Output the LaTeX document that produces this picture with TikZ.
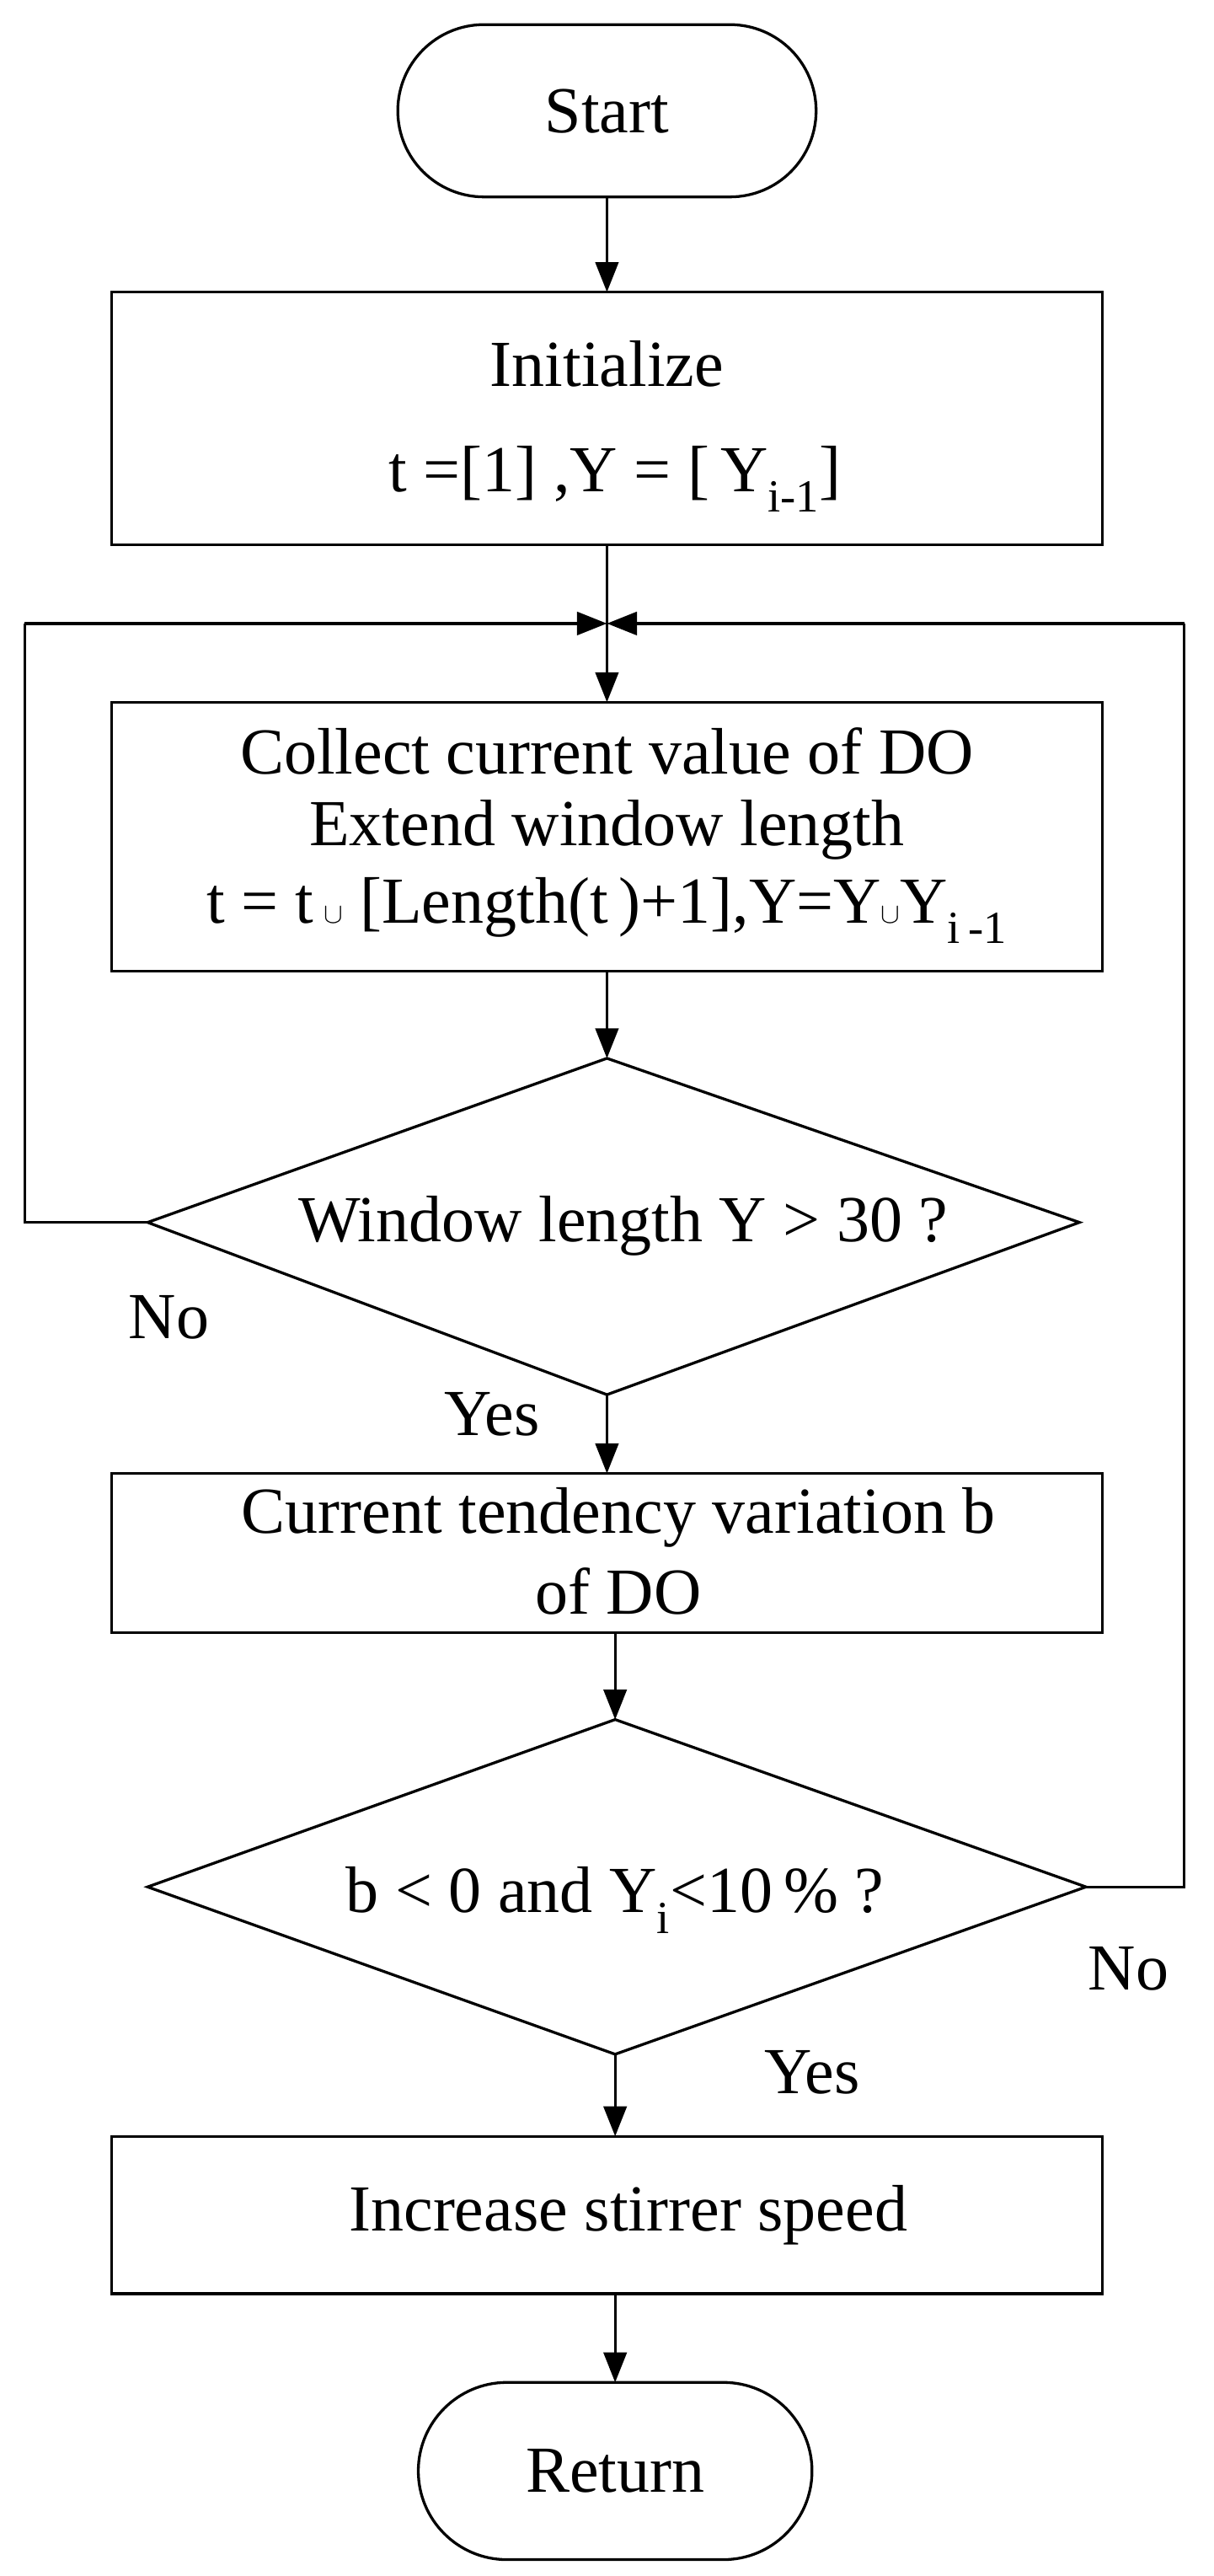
\documentclass[tikz,border=0pt]{standalone}
\usepackage{fontspec}
\setmainfont{Liberation Serif}
\usetikzlibrary{arrows.meta}
\newcommand{\mycup}{{\fontsize{72}{72}\selectfont$\cup$}}
\begin{document}
\begin{tikzpicture}[x=0.05cm,y=-0.05cm,line width=2.4pt,
  arr/.style={-{Triangle[length=26pt,width=20pt]}},
  txt/.style={font=\fontsize{57}{66}\selectfont,inner sep=0pt}]
\useasboundingbox (0,0) rectangle (740,1570);
% start
\draw (295,15) -- (445,15) arc[start angle=90,end angle=-90,radius=52.5*0.05cm] -- (295,120) arc[start angle=270,end angle=90,radius=52.5*0.05cm] -- cycle;
\node[txt] (start) at (370,68) {Start};
\coordinate (startb) at (370,120);
% init
\draw (68,178) rectangle (672,332);
\coordinate (initt) at (370,178); \coordinate (initb) at (370,332);
\node[txt] (init1) at (370,222) {Initialize};
\node[txt] (init2) at (375,292) {t =[1] ,Y = [\,Y\textsubscript{i-1}]};
% junction
\coordinate (j) at (370,380);
\coordinate (jl) at (15,380); \coordinate (jr) at (722,380);
% collect
\draw (68,428) rectangle (672,592);
\coordinate (colt) at (370,428); \coordinate (colb) at (370,592);
\node[txt] (c1) at (370,458) {Collect current value of DO};
\node[txt] (c2) at (370,506) {Extend window length};
\node[txt] (c3) at (370,555) {t = t\,\mycup\ [Length(t\,)+1],Y=Y\mycup Y\textsubscript{i\,-1}};
% diamond 1
\coordinate (d1t) at (370,645); \coordinate (d1b) at (370,850);
\coordinate (d1l) at (90,745); \coordinate (d1r) at (658,745);
\draw (d1t) -- (d1r) -- (d1b) -- (d1l) -- cycle;
\node[txt] (d1) at (380,747) {Window length Y > 30 ?};
\node[txt] (no1) at (103,803) {No};
\node[txt] (yes1) at (300,862) {Yes};
\coordinate (nl1) at (15,745);
% tendency box
\draw (68,898) rectangle (672,995);
\coordinate (tt) at (370,898); \coordinate (tb) at (375,995);
\node[txt] (t1) at (377,925) {Current tendency variation b};
\node[txt] (t2) at (377,970) {of DO};
% diamond 2
\coordinate (d2t) at (375,1048); \coordinate (d2b) at (375,1252);
\coordinate (d2l) at (90,1150); \coordinate (d2r) at (662,1150);
\draw (d2t) -- (d2r) -- (d2b) -- (d2l) -- cycle;
\node[txt] (d2) at (375,1158) {b < 0 and Y\textsubscript{i}<10\,\% ?};
\node[txt] (no2) at (688,1200) {No};
\node[txt] (yes2) at (495,1263) {Yes};
\coordinate (nr2) at (722,1150);
% increase
\draw (68,1302) rectangle (672,1398);
\coordinate (it) at (375,1302); \coordinate (ib) at (375,1398);
\node[txt] (inc) at (383,1350) {Increase stirrer speed};
% return
\draw (309,1452) -- (441,1452) arc[start angle=90,end angle=-90,radius=54*0.05cm] -- (309,1560) arc[start angle=270,end angle=90,radius=54*0.05cm] -- cycle;
\node[txt] (ret) at (375,1506) {Return};
\coordinate (rett) at (375,1452);
% connectors
\draw[arr] (startb) -- (initt);
\draw (initb) -- (j);
\draw[arr] (j) -- (colt);
\draw[arr] (jl) -- (j);
\draw[arr] (jr) -- (j);
\draw[arr] (colb) -- (d1t);
\draw (d1l) -- (nl1) -- (jl);
\draw[arr] (d1b) -- (tt);
\draw[arr] (tb) -- (d2t);
\draw (d2r) -- (nr2) -- (jr);
\draw[arr] (d2b) -- (it);
\draw[arr] (ib) -- (rett);
\end{tikzpicture}
\end{document}
